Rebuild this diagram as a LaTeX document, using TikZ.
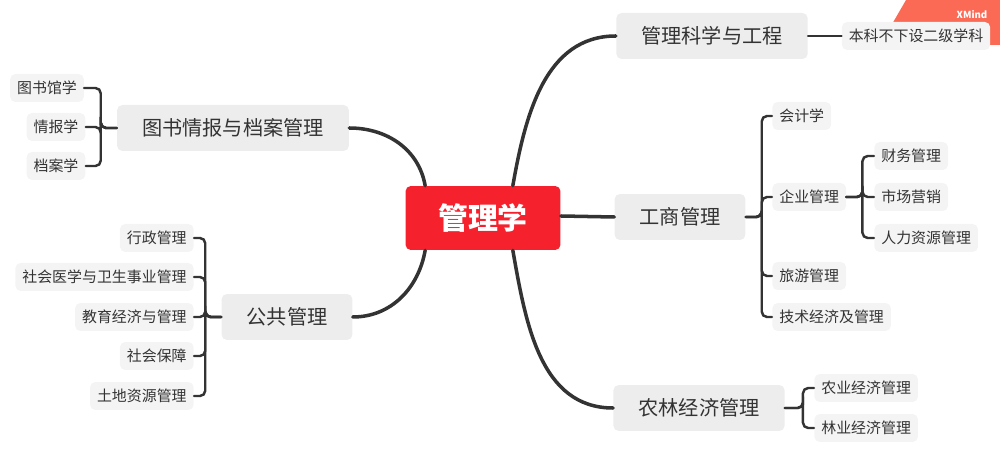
\documentclass[tikz,border=0pt]{standalone}
\usepackage{fontspec}
\setmainfont{Noto Sans CJK SC}
\definecolor{rootred}{HTML}{F5222D}
\definecolor{boxgray}{HTML}{EDEDED}
\definecolor{leafgray}{HTML}{F4F4F4}
\definecolor{linegray}{HTML}{333333}
\definecolor{xmred}{HTML}{FB6A55}
\tikzset{
	rootbox/.style={fill=rootred,text=white,rounded corners=3pt,font=\fontsize{17}{20}\selectfont\bfseries,minimum width=3.1cm,minimum height=1.28cm},
	topicbox/.style={fill=boxgray,text=linegray,rounded corners=3pt,font=\fontsize{11.5}{14}\selectfont,minimum height=0.92cm,inner xsep=0.5cm},
	leafbox/.style={fill=leafgray,text=linegray,rounded corners=3pt,font=\fontsize{8.5}{10}\selectfont,minimum height=0.56cm,inner xsep=0.14cm},
	branch/.style={draw=linegray,line width=2pt,line cap=round},
	twig/.style={draw=linegray,line width=1.4pt,rounded corners=3pt,line cap=round}
}
\begin{document}
\begin{tikzpicture}[x=0.02cm,y=-0.02cm]
	\useasboundingbox (0,0) rectangle (1000,455);
	\fill[xmred] (906,0) -- (1000,0) -- (1000,45) -- (880,45) -- cycle;
	\node[text=white,font=\fontsize{5.5}{6}\selectfont\bfseries] (xm) at (972,15) {XMind};
	% nodes
	\node[rootbox] (root) at (483,218) {管理学};
	\node[topicbox] (gk) at (712,36) {管理科学与工程};
	\node[leafbox] (gk1) at (916,36) {本科不下设二级学科};
	\node[topicbox] (ts) at (233,128) {图书情报与档案管理};
	\node[leafbox] (ts1) at (47,88) {图书馆学};
	\node[leafbox] (ts2) at (56,127) {情报学};
	\node[leafbox] (ts3) at (56,166) {档案学};
	\node[topicbox] (gs) at (680,217) {工商管理};
	\node[leafbox,anchor=west] (gs1) at (772,116) {会计学};
	\node[leafbox,anchor=west] (gs2) at (772,197) {企业管理};
	\node[leafbox,anchor=west] (gs3) at (772,276) {旅游管理};
	\node[leafbox,anchor=west] (gs4) at (772,317) {技术经济及管理};
	\node[leafbox,anchor=west] (qy1) at (874,156) {财务管理};
	\node[leafbox,anchor=west] (qy2) at (874,197) {市场营销};
	\node[leafbox,anchor=west] (qy3) at (874,238) {人力资源管理};
	\node[topicbox] (gg) at (287,317) {公共管理};
	\node[leafbox,anchor=east] (gg1) at (194,238) {行政管理};
	\node[leafbox,anchor=east] (gg2) at (194,277) {社会医学与卫生事业管理};
	\node[leafbox,anchor=east] (gg3) at (194,317) {教育经济与管理};
	\node[leafbox,anchor=east] (gg4) at (194,356) {社会保障};
	\node[leafbox,anchor=east] (gg5) at (194,396) {土地资源管理};
	\node[topicbox] (nl) at (699,408) {农林经济管理};
	\node[leafbox,anchor=west] (nl1) at (814,388) {农业经济管理};
	\node[leafbox,anchor=west] (nl2) at (814,428) {林业经济管理};
	% branches
	\draw[branch] (root.north east) ++(-48,0) to[out=80,in=180] (gk.west);
	\draw[branch] (root.east) ++(0,-2) -- (gs.west);
	\draw[branch] (root.south east) ++(-48,0) to[out=-80,in=180] (nl.west);
	\draw[branch] (root.north west) ++(20,0) to[out=100,in=0] (ts.east);
	\draw[branch] (root.south west) ++(20,0) to[out=-100,in=0] (gg.east);
	% twigs
	\draw[twig] (gk.east) -- (gk1.west);
	\foreach \t in {ts1,ts2,ts3}
		\draw[twig] (ts.west) -| ++(-16,0) |- (\t.east);
	\foreach \t in {gs1,gs2,gs3,gs4}
		\draw[twig] (gs.east) -| ++(16,0) |- (\t.west);
	\foreach \t in {qy1,qy2,qy3}
		\draw[twig] (gs2.east) -| ++(16,0) |- (\t.west);
	\foreach \t in {gg1,gg2,gg3,gg4,gg5}
		\draw[twig] (gg.west) -| ++(-16,0) |- (\t.east);
	\foreach \t in {nl1,nl2}
		\draw[twig] (nl.east) -| ++(18,0) |- (\t.west);
\end{tikzpicture}
\end{document}
